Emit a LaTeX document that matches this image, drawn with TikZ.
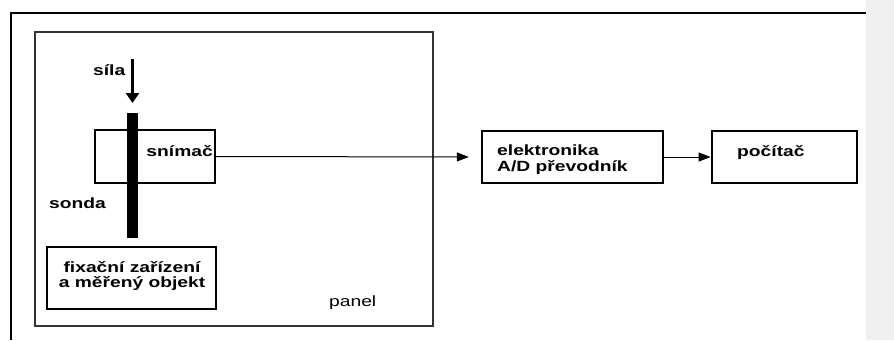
\documentclass[tikz,border=0pt]{standalone}
\usepackage{fontspec}
\setmainfont[FakeStretch=1.3]{Liberation Sans}
\usetikzlibrary{arrows.meta}
\begin{document}
\begin{tikzpicture}[x=1pt,y=-1pt,
  box/.style={draw=black,line width=2.4pt,inner sep=0pt},
  lbl/.style={inner sep=0pt,font=\fontsize{14.8}{16}\selectfont\bfseries},
  plain/.style={inner sep=0pt,font=\fontsize{14.8}{16}\selectfont},
  conn/.style={line width=1pt,-{Triangle[length=12pt,width=9pt]}}]
\useasboundingbox (0,0) rectangle (894,340);
% grey margin band
\fill[black!6] (866,0) rectangle (894,340);
% outer frame (top and left edges)
\draw[line width=2.4pt] (11,340) -- (11,13) -- (866,13);
% panel
\node[draw=black!80,line width=1.2pt,inner sep=0pt,minimum width=398pt,minimum height=294pt] (panel) at (234,179) {};
\node[plain,anchor=base west] (paneltxt) at (329,306) {panel};
% sensor box
\node[box,minimum width=120pt,minimum height=53pt] (snimac) at (155,156.5) {};
% probe
\node[fill=black,inner sep=0pt,minimum width=11pt,minimum height=125pt] (probe) at (132.5,175.5) {};
% force arrow
\coordinate (silatop) at (132.5,59);
\coordinate (silatip) at (132.5,103);
\draw[line width=2.4pt,-{Triangle[length=10pt,width=13pt]}] (silatop) -- (silatip);
\node[lbl,anchor=base west] (sila) at (93,75) {síla};
\node[lbl,anchor=base east] (snimactxt) at (213,156) {snímač};
\node[lbl,anchor=base west] (sonda) at (49,208) {sonda};
% fixation box
\node[box,minimum width=169pt,minimum height=62pt] (fix) at (131.5,278) {};
\node[lbl,anchor=base] (fix1) at (132,272) {fixační zařízení};
\node[lbl,anchor=base] (fix2) at (132,287) {a měřený objekt};
% electronics
\node[box,minimum width=181pt,minimum height=52pt] (elek) at (572.5,157) {};
\node[lbl,anchor=base west] (elek1) at (497,155) {elektronika};
\node[lbl,anchor=base west] (elek2) at (497,171) {A/D převodník};
% computer
\node[box,line width=2.8pt,minimum width=145pt,minimum height=52pt] (pc) at (784.5,157) {};
\node[lbl,anchor=base west] (pctxt) at (737,156) {počítač};
% connectors
\draw[conn,shorten >=12pt] (snimac.east) -- (elek.west);
\draw[conn] (elek.east) -- (pc.west);
\end{tikzpicture}
\end{document}
